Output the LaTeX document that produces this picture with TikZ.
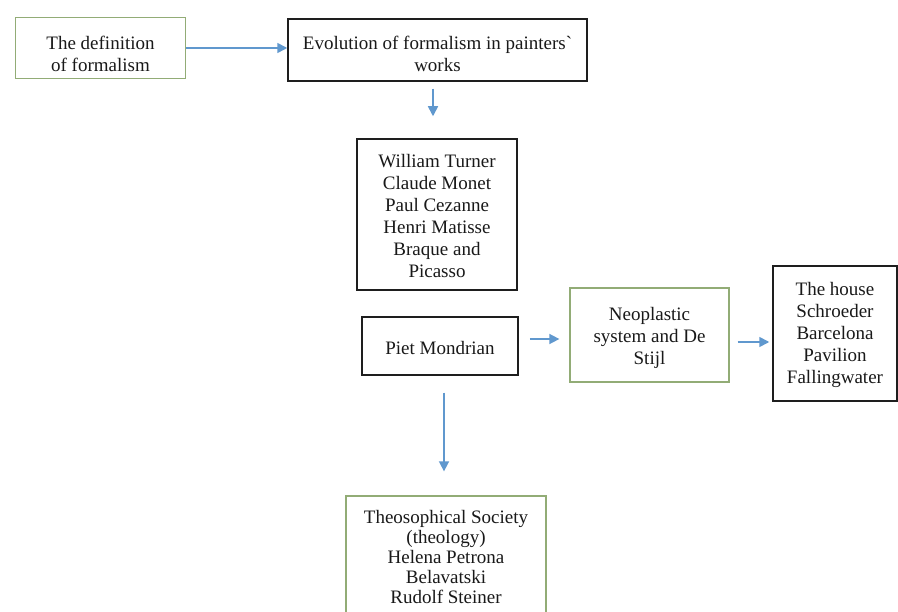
\documentclass[tikz,border=0pt]{standalone}
\usepackage{fontspec}
\setmainfont{Liberation Serif}
\usetikzlibrary{arrows.meta}
\font\gravefnt="Liberation Serif" at 19pt
\newcommand\plaingrave{{\gravefnt\char"60}}
\definecolor{boxgreen}{RGB}{146,172,118}
\definecolor{arrowblue}{RGB}{96,152,206}
\definecolor{boxblack}{RGB}{30,30,30}
\tikzset{
  boxbase/.style={rectangle, inner sep=0pt},
  greenbox/.style={boxbase, draw=boxgreen, line width=1.3pt},
  blackbox/.style={boxbase, draw=boxblack, line width=1.5pt},
  txt/.style={align=center, inner sep=0pt, font=\fontsize{19}{22}\selectfont, text=black!90},
  arr/.style={draw=arrowblue, line width=1.6pt, -{Triangle[length=10pt,width=10pt]}}
}
\begin{document}
\begin{tikzpicture}[x=1pt,y=-1pt]
\useasboundingbox (0,0) rectangle (898,612);
\fill[white] (0,0) rectangle (898,612);
\clip (0,0) rectangle (898,612);

% boxes
\node[greenbox, minimum width=170pt, minimum height=61pt] (def) at (100.5,48) {};
\node[blackbox, minimum width=299pt, minimum height=62pt] (evo) at (437.5,50) {};
\node[blackbox, minimum width=160pt, minimum height=151pt] (wt) at (437,214.5) {};
\node[blackbox, minimum width=156pt, minimum height=58pt] (piet) at (440,346) {};
\node[greenbox, minimum width=159pt, minimum height=94pt] (neo) at (649.5,335) {};
\node[blackbox, minimum width=124pt, minimum height=135pt] (house) at (835,333.5) {};
\node[greenbox, minimum width=200pt, minimum height=122pt] (theo) at (446,557) {};

% texts
\node[txt] (defT) at ([yshift=-6pt]def.center) {The definition\\of formalism};
\node[txt] (evoT) at ([yshift=-3.5pt]evo.center) {Evolution of formalism in painters\plaingrave\\works};
\node[txt] (wtT) at ([yshift=-2pt]wt.center) {William Turner\\Claude Monet\\Paul Cezanne\\Henri Matisse\\Braque and\\Picasso};
\node[txt] (pietT) at ([yshift=-2pt]piet.center) {Piet Mondrian};
\node[txt] (neoT) at ([yshift=-3pt]neo.center) {Neoplastic\\system and De\\Stijl};
\node[txt] (houseT) at ([yshift=-1pt]house.center) {The house\\Schroeder\\Barcelona\\Pavilion\\Fallingwater};
\node[txt, font=\fontsize{19}{20}\selectfont] (theoT) at (theo.center) {Theosophical Society\\(theology)\\Helena Petrona\\Belavatski\\Rudolf Steiner};

% connectors
\draw[arr] (def.east) -- (def.east -| evo.west);
\draw[arr] ([xshift=-4.5pt,yshift=-7pt]evo.south) -- ([xshift=-4pt,yshift=22pt]wt.north);
\draw[arr] ([xshift=4pt,yshift=-17pt]piet.south) -- ([xshift=-2pt,yshift=24pt]theo.north);
\draw[arr] ([xshift=11pt,yshift=7pt]piet.east) -- ([xshift=-10pt,yshift=-4pt]neo.west);
\draw[arr] ([xshift=8pt,yshift=-7pt]neo.east) -- ([xshift=-3pt,yshift=-8.5pt]house.west);
\end{tikzpicture}
\end{document}
